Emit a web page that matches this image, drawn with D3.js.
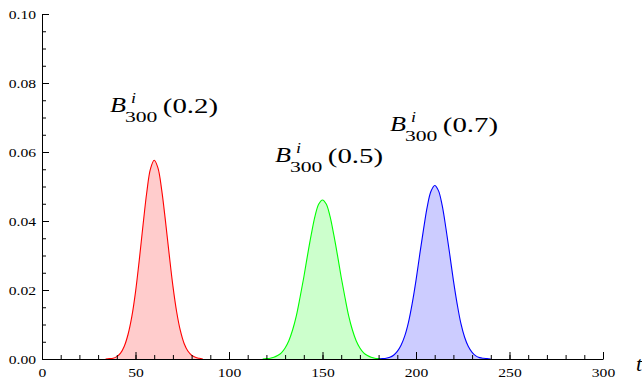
<!DOCTYPE html>
<html>
<head>
<meta charset="utf-8">
<script src="https://cdn.jsdelivr.net/npm/d3@7"></script>
<style>
  body { margin: 0; background: #fff; }
  svg { display: block; }
</style>
</head>
<body>
<script>
// B_300^i(t), x = i
var redX = [34, 36, 38, 40, 42, 44, 46, 48, 50, 52, 54, 56, 58, 60, 62, 64, 66, 68, 70, 72, 74, 76, 78, 80, 82, 84, 86];
var redY = [0, 0.0001, 0.0002, 0.0007, 0.0017, 0.0037, 0.0071, 0.0122, 0.0194, 0.0286, 0.0387, 0.0482, 0.0551, 0.0576,
            0.0554, 0.0490, 0.0401, 0.0304, 0.0212, 0.0137, 0.0082, 0.0045, 0.0023, 0.0011, 0.0005, 0.0002, 0];

var greenX = [118, 120, 122, 124, 126, 128, 130, 132, 134, 136, 138, 140, 142, 144, 146, 148, 150,
              152, 154, 156, 158, 160, 162, 164, 166, 168, 170, 172, 174, 176, 178, 180, 182];
var greenY = [0, 0.0001, 0.0002, 0.0005, 0.0010, 0.0018, 0.0032, 0.0053, 0.0084, 0.0125, 0.0179, 0.0237, 0.0301, 0.0361, 0.0414, 0.0449, 0.0461,
              0.0449, 0.0414, 0.0361, 0.0301, 0.0237, 0.0179, 0.0125, 0.0084, 0.0053, 0.0032, 0.0018, 0.0010, 0.0005, 0.0002, 0.0001, 0];

var blueX = [180, 182, 184, 186, 188, 190, 192, 194, 196, 198, 200, 202, 204, 206, 208, 210,
             212, 214, 216, 218, 220, 222, 224, 226, 228, 230, 232, 234, 236, 238, 240];
var blueY = [0, 0.0001, 0.0002, 0.0005, 0.0011, 0.0022, 0.0040, 0.0067, 0.0107, 0.0162, 0.0228, 0.0303, 0.0375, 0.0441, 0.0486, 0.0503,
             0.0488, 0.0445, 0.0379, 0.0305, 0.0228, 0.0160, 0.0103, 0.0063, 0.0036, 0.0019, 0.0009, 0.0004, 0.0002, 0.0001, 0];

var series = [
  {xs: redX, ys: redY, line: "#ff0000", fill: "#ffcccc", t: "0.2", lx: 110, ly: 112},
  {xs: greenX, ys: greenY, line: "#00ff00", fill: "#ccffcc", t: "0.5", lx: 275, ly: 162},
  {xs: blueX, ys: blueY, line: "#0000ff", fill: "#ccccff", t: "0.7", lx: 390, ly: 131}
];

var xTicks = [0, 50, 100, 150, 200, 250, 300];
var yTicks = [0, 0.02, 0.04, 0.06, 0.08, 0.10];

var w = 642, h = 383;
var serif = "'Liberation Serif'";
var stretch = "scale(1.2,1)";   // the text in the picture is a bit wide

var svg = d3.select("body").append("svg").attr("width", w).attr("height", h);

var x = d3.scaleLinear().domain([0, 300]).range([42, 603]);
var y = d3.scaleLinear().domain([0, 0.1]).range([359, 14]);

var area = d3.area()
  .x(function(d){ return x(d[0]); })
  .y0(y(0))
  .y1(function(d){ return y(d[1]); })
  .curve(d3.curveCatmullRom);
var line = d3.line()
  .x(function(d){ return x(d[0]); })
  .y(function(d){ return y(d[1]); })
  .curve(d3.curveCatmullRom);

series.forEach(function(s){
  var pts = s.xs.map(function(v, i){ return [v, s.ys[i]]; });
  svg.append("path").attr("d", area(pts)).attr("fill", s.fill);
  svg.append("path").attr("d", line(pts)).attr("fill", "none").attr("stroke", s.line).attr("stroke-width", 1.1);
});

// minor ticks
svg.append("g").attr("transform", "translate(0,359)")
  .call(d3.axisBottom(x).tickValues(d3.range(0, 301, 10)).tickSize(-4).tickFormat(""))
  .select(".domain").remove();
svg.append("g").attr("transform", "translate(42,0)")
  .call(d3.axisLeft(y).tickValues(d3.range(0, 0.1001, 0.005)).tickSize(-4).tickFormat(""))
  .select(".domain").remove();

// major ticks
var gx = svg.append("g").attr("transform", "translate(0,359)")
  .call(d3.axisBottom(x).tickValues(xTicks).tickSizeInner(-7).tickSizeOuter(0).tickPadding(9).tickFormat(d3.format("d")));
var gy = svg.append("g").attr("transform", "translate(42,0)")
  .call(d3.axisLeft(y).tickValues(yTicks).tickSizeInner(-7).tickSizeOuter(0).tickPadding(5).tickFormat(d3.format(".2f")));

[gx, gy].forEach(function(g){
  g.attr("font-family", null).attr("font-size", null);
  g.selectAll("text")
    .attr("font-family", "Liberation Serif").attr("font-size", 13).attr("fill", "#000")
    .attr("transform", stretch);
  g.selectAll("line, path").attr("stroke", "#000");
});

// labels  B^i_300(t), widths
series.forEach(function(s){
  var g = svg.append("g").attr("transform", "translate(" + s.lx + "," + s.ly + ") " + stretch);
  function part(px, py, size, italic, str, len){
    var t = g.append("text").attr("x", px).attr("y", py)
      .style("font-family", serif).style("font-size", size + "px")
      .style("font-style", italic ? "italic" : "normal").attr("fill", "#000").text(str);
    if (len) t.attr("textLength", len).attr("lengthAdjust", "spacingAndGlyphs");
  }
  part(0, 0, 22, true, "B", 13.3);
  part(17.5, -9, 15, true, "i", 0);
  part(12.5, 10, 15.5, false, "300", 27);
  part(44, 1, 22, false, "(" + s.t + ")", 46);
});

svg.append("text").attr("x", 636).attr("y", 371)
  .style("font-family", serif).style("font-size", "22px").style("font-style", "italic").text("t");
</script>
</body>
</html>
